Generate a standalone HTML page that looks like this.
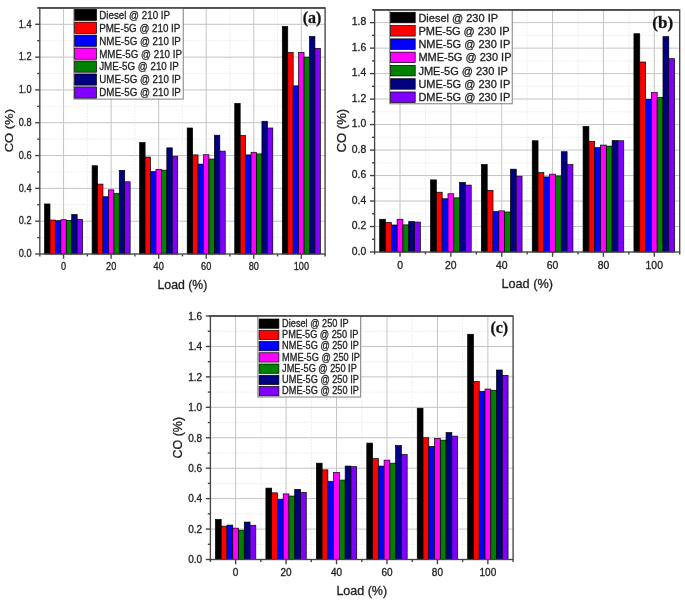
<!DOCTYPE html>
<html><head><meta charset="utf-8"><title>CO emission charts</title>
<style>
html,body{margin:0;padding:0;background:#fff;}
body{width:685px;height:604px;overflow:hidden;}
svg{display:block;font-family:"Liberation Sans", sans-serif;filter:blur(0.45px);}
text{stroke:#222;stroke-width:0.3px;}
</style></head>
<body>
<svg width="685" height="604" viewBox="0 0 685 604">
<rect width="685" height="604" fill="#fff"/>
<line x1="39.8" y1="237.59" x2="325.1" y2="237.59" stroke="#eeeeee" stroke-width="1" stroke-dasharray="2 1"/>
<line x1="39.8" y1="204.78" x2="325.1" y2="204.78" stroke="#eeeeee" stroke-width="1" stroke-dasharray="2 1"/>
<line x1="39.8" y1="171.97" x2="325.1" y2="171.97" stroke="#eeeeee" stroke-width="1" stroke-dasharray="2 1"/>
<line x1="39.8" y1="139.15" x2="325.1" y2="139.15" stroke="#eeeeee" stroke-width="1" stroke-dasharray="2 1"/>
<line x1="39.8" y1="106.34" x2="325.1" y2="106.34" stroke="#eeeeee" stroke-width="1" stroke-dasharray="2 1"/>
<line x1="39.8" y1="73.53" x2="325.1" y2="73.53" stroke="#eeeeee" stroke-width="1" stroke-dasharray="2 1"/>
<line x1="39.8" y1="40.71" x2="325.1" y2="40.71" stroke="#eeeeee" stroke-width="1" stroke-dasharray="2 1"/>
<line x1="87.35" y1="7.9" x2="87.35" y2="254" stroke="#eeeeee" stroke-width="1" stroke-dasharray="2 1"/>
<line x1="134.9" y1="7.9" x2="134.9" y2="254" stroke="#eeeeee" stroke-width="1" stroke-dasharray="2 1"/>
<line x1="182.45" y1="7.9" x2="182.45" y2="254" stroke="#eeeeee" stroke-width="1" stroke-dasharray="2 1"/>
<line x1="230" y1="7.9" x2="230" y2="254" stroke="#eeeeee" stroke-width="1" stroke-dasharray="2 1"/>
<line x1="277.55" y1="7.9" x2="277.55" y2="254" stroke="#eeeeee" stroke-width="1" stroke-dasharray="2 1"/>
<line x1="39.8" y1="221.19" x2="325.1" y2="221.19" stroke="#c4c4c4" stroke-width="1"/>
<line x1="39.8" y1="188.37" x2="325.1" y2="188.37" stroke="#c4c4c4" stroke-width="1"/>
<line x1="39.8" y1="155.56" x2="325.1" y2="155.56" stroke="#c4c4c4" stroke-width="1"/>
<line x1="39.8" y1="122.75" x2="325.1" y2="122.75" stroke="#c4c4c4" stroke-width="1"/>
<line x1="39.8" y1="89.93" x2="325.1" y2="89.93" stroke="#c4c4c4" stroke-width="1"/>
<line x1="39.8" y1="57.12" x2="325.1" y2="57.12" stroke="#c4c4c4" stroke-width="1"/>
<line x1="39.8" y1="24.31" x2="325.1" y2="24.31" stroke="#c4c4c4" stroke-width="1"/>
<line x1="63.57" y1="7.9" x2="63.57" y2="254" stroke="#c4c4c4" stroke-width="1"/>
<line x1="111.12" y1="7.9" x2="111.12" y2="254" stroke="#c4c4c4" stroke-width="1"/>
<line x1="158.68" y1="7.9" x2="158.68" y2="254" stroke="#c4c4c4" stroke-width="1"/>
<line x1="206.22" y1="7.9" x2="206.22" y2="254" stroke="#c4c4c4" stroke-width="1"/>
<line x1="253.77" y1="7.9" x2="253.77" y2="254" stroke="#c4c4c4" stroke-width="1"/>
<line x1="301.32" y1="7.9" x2="301.32" y2="254" stroke="#c4c4c4" stroke-width="1"/>
<rect x="44.55" y="203.96" width="5.43" height="50.04" fill="#000000" stroke="#000" stroke-width="0.7"/>
<rect x="49.99" y="220.04" width="5.43" height="33.96" fill="#ff0000" stroke="#000" stroke-width="0.7"/>
<rect x="55.42" y="220.69" width="5.43" height="33.31" fill="#0000ff" stroke="#000" stroke-width="0.7"/>
<rect x="60.86" y="219.71" width="5.43" height="34.29" fill="#ff00ff" stroke="#000" stroke-width="0.7"/>
<rect x="66.29" y="220.37" width="5.43" height="33.63" fill="#008000" stroke="#000" stroke-width="0.7"/>
<rect x="71.73" y="214.62" width="5.43" height="39.38" fill="#000080" stroke="#000" stroke-width="0.7"/>
<rect x="77.16" y="219.55" width="5.43" height="34.45" fill="#8000ff" stroke="#000" stroke-width="0.7"/>
<rect x="92.11" y="165.73" width="5.43" height="88.27" fill="#000000" stroke="#000" stroke-width="0.7"/>
<rect x="97.54" y="184.11" width="5.43" height="69.89" fill="#ff0000" stroke="#000" stroke-width="0.7"/>
<rect x="102.97" y="196.74" width="5.43" height="57.26" fill="#0000ff" stroke="#000" stroke-width="0.7"/>
<rect x="108.41" y="189.85" width="5.43" height="64.15" fill="#ff00ff" stroke="#000" stroke-width="0.7"/>
<rect x="113.84" y="193.46" width="5.43" height="60.54" fill="#008000" stroke="#000" stroke-width="0.7"/>
<rect x="119.28" y="170.33" width="5.43" height="83.67" fill="#000080" stroke="#000" stroke-width="0.7"/>
<rect x="124.71" y="181.81" width="5.43" height="72.19" fill="#8000ff" stroke="#000" stroke-width="0.7"/>
<rect x="139.66" y="142.6" width="5.43" height="111.4" fill="#000000" stroke="#000" stroke-width="0.7"/>
<rect x="145.09" y="157.04" width="5.43" height="96.96" fill="#ff0000" stroke="#000" stroke-width="0.7"/>
<rect x="150.52" y="171.64" width="5.43" height="82.36" fill="#0000ff" stroke="#000" stroke-width="0.7"/>
<rect x="155.96" y="169.34" width="5.43" height="84.66" fill="#ff00ff" stroke="#000" stroke-width="0.7"/>
<rect x="161.39" y="170.16" width="5.43" height="83.84" fill="#008000" stroke="#000" stroke-width="0.7"/>
<rect x="166.83" y="147.85" width="5.43" height="106.15" fill="#000080" stroke="#000" stroke-width="0.7"/>
<rect x="172.26" y="156.22" width="5.43" height="97.78" fill="#8000ff" stroke="#000" stroke-width="0.7"/>
<rect x="187.2" y="128" width="5.43" height="126" fill="#000000" stroke="#000" stroke-width="0.7"/>
<rect x="192.64" y="154.9" width="5.43" height="99.1" fill="#ff0000" stroke="#000" stroke-width="0.7"/>
<rect x="198.07" y="164.09" width="5.43" height="89.91" fill="#0000ff" stroke="#000" stroke-width="0.7"/>
<rect x="203.51" y="154.74" width="5.43" height="99.26" fill="#ff00ff" stroke="#000" stroke-width="0.7"/>
<rect x="208.94" y="159.01" width="5.43" height="94.99" fill="#008000" stroke="#000" stroke-width="0.7"/>
<rect x="214.38" y="135.22" width="5.43" height="118.78" fill="#000080" stroke="#000" stroke-width="0.7"/>
<rect x="219.81" y="151.13" width="5.43" height="102.87" fill="#8000ff" stroke="#000" stroke-width="0.7"/>
<rect x="234.75" y="103.39" width="5.43" height="150.61" fill="#000000" stroke="#000" stroke-width="0.7"/>
<rect x="240.19" y="135.54" width="5.43" height="118.46" fill="#ff0000" stroke="#000" stroke-width="0.7"/>
<rect x="245.62" y="154.9" width="5.43" height="99.1" fill="#0000ff" stroke="#000" stroke-width="0.7"/>
<rect x="251.06" y="152.28" width="5.43" height="101.72" fill="#ff00ff" stroke="#000" stroke-width="0.7"/>
<rect x="256.49" y="153.92" width="5.43" height="100.08" fill="#008000" stroke="#000" stroke-width="0.7"/>
<rect x="261.93" y="121.27" width="5.43" height="132.73" fill="#000080" stroke="#000" stroke-width="0.7"/>
<rect x="267.36" y="128" width="5.43" height="126" fill="#8000ff" stroke="#000" stroke-width="0.7"/>
<rect x="282.31" y="26.6" width="5.43" height="227.4" fill="#000000" stroke="#000" stroke-width="0.7"/>
<rect x="287.74" y="52.36" width="5.43" height="201.64" fill="#ff0000" stroke="#000" stroke-width="0.7"/>
<rect x="293.17" y="85.83" width="5.43" height="168.17" fill="#0000ff" stroke="#000" stroke-width="0.7"/>
<rect x="298.61" y="52.36" width="5.43" height="201.64" fill="#ff00ff" stroke="#000" stroke-width="0.7"/>
<rect x="304.04" y="57.12" width="5.43" height="196.88" fill="#008000" stroke="#000" stroke-width="0.7"/>
<rect x="309.48" y="36.45" width="5.43" height="217.55" fill="#000080" stroke="#000" stroke-width="0.7"/>
<rect x="314.91" y="48.42" width="5.43" height="205.58" fill="#8000ff" stroke="#000" stroke-width="0.7"/>
<rect x="39.8" y="7.9" width="285.3" height="246.1" fill="none" stroke="#454545" stroke-width="1.35"/>
<line x1="35.2" y1="254" x2="39.8" y2="254" stroke="#454545" stroke-width="1.4"/>
<text transform="translate(31.5 257.28) scale(0.92 1.0)" text-anchor="end" font-size="10" fill="#1c1c1c">0.0</text>
<line x1="37.2" y1="237.59" x2="39.8" y2="237.59" stroke="#454545" stroke-width="1.4"/>
<line x1="35.2" y1="221.19" x2="39.8" y2="221.19" stroke="#454545" stroke-width="1.4"/>
<text transform="translate(31.5 224.47) scale(0.92 1.0)" text-anchor="end" font-size="10" fill="#1c1c1c">0.2</text>
<line x1="37.2" y1="204.78" x2="39.8" y2="204.78" stroke="#454545" stroke-width="1.4"/>
<line x1="35.2" y1="188.37" x2="39.8" y2="188.37" stroke="#454545" stroke-width="1.4"/>
<text transform="translate(31.5 191.65) scale(0.92 1.0)" text-anchor="end" font-size="10" fill="#1c1c1c">0.4</text>
<line x1="37.2" y1="171.97" x2="39.8" y2="171.97" stroke="#454545" stroke-width="1.4"/>
<line x1="35.2" y1="155.56" x2="39.8" y2="155.56" stroke="#454545" stroke-width="1.4"/>
<text transform="translate(31.5 158.84) scale(0.92 1.0)" text-anchor="end" font-size="10" fill="#1c1c1c">0.6</text>
<line x1="37.2" y1="139.15" x2="39.8" y2="139.15" stroke="#454545" stroke-width="1.4"/>
<line x1="35.2" y1="122.75" x2="39.8" y2="122.75" stroke="#454545" stroke-width="1.4"/>
<text transform="translate(31.5 126.03) scale(0.92 1.0)" text-anchor="end" font-size="10" fill="#1c1c1c">0.8</text>
<line x1="37.2" y1="106.34" x2="39.8" y2="106.34" stroke="#454545" stroke-width="1.4"/>
<line x1="35.2" y1="89.93" x2="39.8" y2="89.93" stroke="#454545" stroke-width="1.4"/>
<text transform="translate(31.5 93.21) scale(0.92 1.0)" text-anchor="end" font-size="10" fill="#1c1c1c">1.0</text>
<line x1="37.2" y1="73.53" x2="39.8" y2="73.53" stroke="#454545" stroke-width="1.4"/>
<line x1="35.2" y1="57.12" x2="39.8" y2="57.12" stroke="#454545" stroke-width="1.4"/>
<text transform="translate(31.5 60.4) scale(0.92 1.0)" text-anchor="end" font-size="10" fill="#1c1c1c">1.2</text>
<line x1="37.2" y1="40.71" x2="39.8" y2="40.71" stroke="#454545" stroke-width="1.4"/>
<line x1="35.2" y1="24.31" x2="39.8" y2="24.31" stroke="#454545" stroke-width="1.4"/>
<text transform="translate(31.5 27.59) scale(0.92 1.0)" text-anchor="end" font-size="10" fill="#1c1c1c">1.4</text>
<line x1="37.2" y1="7.9" x2="39.8" y2="7.9" stroke="#454545" stroke-width="1.4"/>
<line x1="39.8" y1="254" x2="39.8" y2="256.4" stroke="#454545" stroke-width="1.4"/>
<line x1="63.57" y1="254" x2="63.57" y2="258.8" stroke="#454545" stroke-width="1.4"/>
<text transform="translate(63.57 270.18) scale(0.92 1.0)" text-anchor="middle" font-size="10" fill="#1c1c1c">0</text>
<line x1="87.35" y1="254" x2="87.35" y2="256.4" stroke="#454545" stroke-width="1.4"/>
<line x1="111.12" y1="254" x2="111.12" y2="258.8" stroke="#454545" stroke-width="1.4"/>
<text transform="translate(111.12 270.18) scale(0.92 1.0)" text-anchor="middle" font-size="10" fill="#1c1c1c">20</text>
<line x1="134.9" y1="254" x2="134.9" y2="256.4" stroke="#454545" stroke-width="1.4"/>
<line x1="158.68" y1="254" x2="158.68" y2="258.8" stroke="#454545" stroke-width="1.4"/>
<text transform="translate(158.68 270.18) scale(0.92 1.0)" text-anchor="middle" font-size="10" fill="#1c1c1c">40</text>
<line x1="182.45" y1="254" x2="182.45" y2="256.4" stroke="#454545" stroke-width="1.4"/>
<line x1="206.22" y1="254" x2="206.22" y2="258.8" stroke="#454545" stroke-width="1.4"/>
<text transform="translate(206.22 270.18) scale(0.92 1.0)" text-anchor="middle" font-size="10" fill="#1c1c1c">60</text>
<line x1="230" y1="254" x2="230" y2="256.4" stroke="#454545" stroke-width="1.4"/>
<line x1="253.77" y1="254" x2="253.77" y2="258.8" stroke="#454545" stroke-width="1.4"/>
<text transform="translate(253.77 270.18) scale(0.92 1.0)" text-anchor="middle" font-size="10" fill="#1c1c1c">80</text>
<line x1="277.55" y1="254" x2="277.55" y2="256.4" stroke="#454545" stroke-width="1.4"/>
<line x1="301.32" y1="254" x2="301.32" y2="258.8" stroke="#454545" stroke-width="1.4"/>
<text transform="translate(301.32 270.18) scale(0.92 1.0)" text-anchor="middle" font-size="10" fill="#1c1c1c">100</text>
<line x1="325.1" y1="254" x2="325.1" y2="256.4" stroke="#454545" stroke-width="1.4"/>
<text x="182.45" y="289.33" text-anchor="middle" font-size="12.3" fill="#1c1c1c">Load (%)</text>
<text transform="translate(13.42 130.65) rotate(-90) scale(1 0.88)" x="0" y="0" text-anchor="middle" font-size="13" fill="#1c1c1c">CO (%)</text>
<rect x="73.9" y="7.9" width="109.3" height="91.2" fill="#fff" stroke="#707070" stroke-width="0.9"/>
<rect x="74.7" y="9.2" width="21.8" height="11.2" fill="#000000" stroke="#000" stroke-width="0.7"/>
<text transform="translate(99.2 18.69) scale(0.907 1.0)" font-size="10.8" fill="#1c1c1c">Diesel @ 210 IP</text>
<rect x="74.7" y="22.15" width="21.8" height="11.2" fill="#ff0000" stroke="#000" stroke-width="0.7"/>
<text transform="translate(99.2 31.64) scale(0.907 1.0)" font-size="10.8" fill="#1c1c1c">PME-5G @ 210 IP</text>
<rect x="74.7" y="35.1" width="21.8" height="11.2" fill="#0000ff" stroke="#000" stroke-width="0.7"/>
<text transform="translate(99.2 44.59) scale(0.907 1.0)" font-size="10.8" fill="#1c1c1c">NME-5G @ 210 IP</text>
<rect x="74.7" y="48.05" width="21.8" height="11.2" fill="#ff00ff" stroke="#000" stroke-width="0.7"/>
<text transform="translate(99.2 57.54) scale(0.907 1.0)" font-size="10.8" fill="#1c1c1c">MME-5G @ 210 IP</text>
<rect x="74.7" y="61" width="21.8" height="11.2" fill="#008000" stroke="#000" stroke-width="0.7"/>
<text transform="translate(99.2 70.49) scale(0.907 1.0)" font-size="10.8" fill="#1c1c1c">JME-5G @ 210 IP</text>
<rect x="74.7" y="73.95" width="21.8" height="11.2" fill="#000080" stroke="#000" stroke-width="0.7"/>
<text transform="translate(99.2 83.44) scale(0.907 1.0)" font-size="10.8" fill="#1c1c1c">UME-5G @ 210 IP</text>
<rect x="74.7" y="86.9" width="21.8" height="11.2" fill="#8000ff" stroke="#000" stroke-width="0.7"/>
<text transform="translate(99.2 96.39) scale(0.907 1.0)" font-size="10.8" fill="#1c1c1c">DME-5G @ 210 IP</text>
<line x1="38.3" y1="7.9" x2="325.1" y2="7.9" stroke="#454545" stroke-width="1.5"/>
<text x="312" y="22.6" text-anchor="middle" font-family="Liberation Serif, serif" font-weight="bold" font-size="16" fill="#111">(a)</text>
<line x1="374.6" y1="239.26" x2="679.7" y2="239.26" stroke="#eeeeee" stroke-width="1" stroke-dasharray="2 1"/>
<line x1="374.6" y1="213.77" x2="679.7" y2="213.77" stroke="#eeeeee" stroke-width="1" stroke-dasharray="2 1"/>
<line x1="374.6" y1="188.29" x2="679.7" y2="188.29" stroke="#eeeeee" stroke-width="1" stroke-dasharray="2 1"/>
<line x1="374.6" y1="162.81" x2="679.7" y2="162.81" stroke="#eeeeee" stroke-width="1" stroke-dasharray="2 1"/>
<line x1="374.6" y1="137.32" x2="679.7" y2="137.32" stroke="#eeeeee" stroke-width="1" stroke-dasharray="2 1"/>
<line x1="374.6" y1="111.84" x2="679.7" y2="111.84" stroke="#eeeeee" stroke-width="1" stroke-dasharray="2 1"/>
<line x1="374.6" y1="86.35" x2="679.7" y2="86.35" stroke="#eeeeee" stroke-width="1" stroke-dasharray="2 1"/>
<line x1="374.6" y1="60.87" x2="679.7" y2="60.87" stroke="#eeeeee" stroke-width="1" stroke-dasharray="2 1"/>
<line x1="374.6" y1="35.38" x2="679.7" y2="35.38" stroke="#eeeeee" stroke-width="1" stroke-dasharray="2 1"/>
<line x1="425.45" y1="9.9" x2="425.45" y2="252" stroke="#eeeeee" stroke-width="1" stroke-dasharray="2 1"/>
<line x1="476.3" y1="9.9" x2="476.3" y2="252" stroke="#eeeeee" stroke-width="1" stroke-dasharray="2 1"/>
<line x1="527.15" y1="9.9" x2="527.15" y2="252" stroke="#eeeeee" stroke-width="1" stroke-dasharray="2 1"/>
<line x1="578" y1="9.9" x2="578" y2="252" stroke="#eeeeee" stroke-width="1" stroke-dasharray="2 1"/>
<line x1="628.85" y1="9.9" x2="628.85" y2="252" stroke="#eeeeee" stroke-width="1" stroke-dasharray="2 1"/>
<line x1="374.6" y1="226.52" x2="679.7" y2="226.52" stroke="#c4c4c4" stroke-width="1"/>
<line x1="374.6" y1="201.03" x2="679.7" y2="201.03" stroke="#c4c4c4" stroke-width="1"/>
<line x1="374.6" y1="175.55" x2="679.7" y2="175.55" stroke="#c4c4c4" stroke-width="1"/>
<line x1="374.6" y1="150.06" x2="679.7" y2="150.06" stroke="#c4c4c4" stroke-width="1"/>
<line x1="374.6" y1="124.58" x2="679.7" y2="124.58" stroke="#c4c4c4" stroke-width="1"/>
<line x1="374.6" y1="99.09" x2="679.7" y2="99.09" stroke="#c4c4c4" stroke-width="1"/>
<line x1="374.6" y1="73.61" x2="679.7" y2="73.61" stroke="#c4c4c4" stroke-width="1"/>
<line x1="374.6" y1="48.13" x2="679.7" y2="48.13" stroke="#c4c4c4" stroke-width="1"/>
<line x1="374.6" y1="22.64" x2="679.7" y2="22.64" stroke="#c4c4c4" stroke-width="1"/>
<line x1="400.03" y1="9.9" x2="400.03" y2="252" stroke="#c4c4c4" stroke-width="1"/>
<line x1="450.88" y1="9.9" x2="450.88" y2="252" stroke="#c4c4c4" stroke-width="1"/>
<line x1="501.73" y1="9.9" x2="501.73" y2="252" stroke="#c4c4c4" stroke-width="1"/>
<line x1="552.58" y1="9.9" x2="552.58" y2="252" stroke="#c4c4c4" stroke-width="1"/>
<line x1="603.42" y1="9.9" x2="603.42" y2="252" stroke="#c4c4c4" stroke-width="1"/>
<line x1="654.28" y1="9.9" x2="654.28" y2="252" stroke="#c4c4c4" stroke-width="1"/>
<rect x="379.69" y="219.25" width="5.81" height="32.75" fill="#000000" stroke="#000" stroke-width="0.7"/>
<rect x="385.5" y="222.44" width="5.81" height="29.56" fill="#ff0000" stroke="#000" stroke-width="0.7"/>
<rect x="391.31" y="224.99" width="5.81" height="27.01" fill="#0000ff" stroke="#000" stroke-width="0.7"/>
<rect x="397.12" y="219.25" width="5.81" height="32.75" fill="#ff00ff" stroke="#000" stroke-width="0.7"/>
<rect x="402.93" y="224.86" width="5.81" height="27.14" fill="#008000" stroke="#000" stroke-width="0.7"/>
<rect x="408.74" y="221.55" width="5.81" height="30.45" fill="#000080" stroke="#000" stroke-width="0.7"/>
<rect x="414.55" y="222.06" width="5.81" height="29.94" fill="#8000ff" stroke="#000" stroke-width="0.7"/>
<rect x="430.53" y="179.88" width="5.81" height="72.12" fill="#000000" stroke="#000" stroke-width="0.7"/>
<rect x="436.35" y="192.24" width="5.81" height="59.76" fill="#ff0000" stroke="#000" stroke-width="0.7"/>
<rect x="442.16" y="198.74" width="5.81" height="53.26" fill="#0000ff" stroke="#000" stroke-width="0.7"/>
<rect x="447.97" y="193.77" width="5.81" height="58.23" fill="#ff00ff" stroke="#000" stroke-width="0.7"/>
<rect x="453.78" y="197.85" width="5.81" height="54.15" fill="#008000" stroke="#000" stroke-width="0.7"/>
<rect x="459.59" y="182.43" width="5.81" height="69.57" fill="#000080" stroke="#000" stroke-width="0.7"/>
<rect x="465.4" y="185.1" width="5.81" height="66.9" fill="#8000ff" stroke="#000" stroke-width="0.7"/>
<rect x="481.38" y="164.46" width="5.81" height="87.54" fill="#000000" stroke="#000" stroke-width="0.7"/>
<rect x="487.2" y="190.33" width="5.81" height="61.67" fill="#ff0000" stroke="#000" stroke-width="0.7"/>
<rect x="493.01" y="211.61" width="5.81" height="40.39" fill="#0000ff" stroke="#000" stroke-width="0.7"/>
<rect x="498.82" y="210.84" width="5.81" height="41.16" fill="#ff00ff" stroke="#000" stroke-width="0.7"/>
<rect x="504.63" y="211.99" width="5.81" height="40.01" fill="#008000" stroke="#000" stroke-width="0.7"/>
<rect x="510.44" y="169.18" width="5.81" height="82.82" fill="#000080" stroke="#000" stroke-width="0.7"/>
<rect x="516.25" y="176.18" width="5.81" height="75.82" fill="#8000ff" stroke="#000" stroke-width="0.7"/>
<rect x="532.24" y="140.76" width="5.81" height="111.24" fill="#000000" stroke="#000" stroke-width="0.7"/>
<rect x="538.05" y="172.62" width="5.81" height="79.38" fill="#ff0000" stroke="#000" stroke-width="0.7"/>
<rect x="543.86" y="176.95" width="5.81" height="75.05" fill="#0000ff" stroke="#000" stroke-width="0.7"/>
<rect x="549.67" y="174.15" width="5.81" height="77.85" fill="#ff00ff" stroke="#000" stroke-width="0.7"/>
<rect x="555.48" y="175.93" width="5.81" height="76.07" fill="#008000" stroke="#000" stroke-width="0.7"/>
<rect x="561.29" y="151.72" width="5.81" height="100.28" fill="#000080" stroke="#000" stroke-width="0.7"/>
<rect x="567.1" y="164.59" width="5.81" height="87.41" fill="#8000ff" stroke="#000" stroke-width="0.7"/>
<rect x="583.08" y="126.49" width="5.81" height="125.51" fill="#000000" stroke="#000" stroke-width="0.7"/>
<rect x="588.9" y="141.4" width="5.81" height="110.6" fill="#ff0000" stroke="#000" stroke-width="0.7"/>
<rect x="594.71" y="147.64" width="5.81" height="104.36" fill="#0000ff" stroke="#000" stroke-width="0.7"/>
<rect x="600.52" y="145.09" width="5.81" height="106.91" fill="#ff00ff" stroke="#000" stroke-width="0.7"/>
<rect x="606.33" y="146.11" width="5.81" height="105.89" fill="#008000" stroke="#000" stroke-width="0.7"/>
<rect x="612.14" y="140.63" width="5.81" height="111.37" fill="#000080" stroke="#000" stroke-width="0.7"/>
<rect x="617.95" y="140.76" width="5.81" height="111.24" fill="#8000ff" stroke="#000" stroke-width="0.7"/>
<rect x="633.94" y="33.73" width="5.81" height="218.27" fill="#000000" stroke="#000" stroke-width="0.7"/>
<rect x="639.75" y="62.02" width="5.81" height="189.98" fill="#ff0000" stroke="#000" stroke-width="0.7"/>
<rect x="645.56" y="99.22" width="5.81" height="152.78" fill="#0000ff" stroke="#000" stroke-width="0.7"/>
<rect x="651.37" y="92.6" width="5.81" height="159.4" fill="#ff00ff" stroke="#000" stroke-width="0.7"/>
<rect x="657.18" y="97.44" width="5.81" height="154.56" fill="#008000" stroke="#000" stroke-width="0.7"/>
<rect x="662.99" y="36.66" width="5.81" height="215.34" fill="#000080" stroke="#000" stroke-width="0.7"/>
<rect x="668.8" y="58.7" width="5.81" height="193.3" fill="#8000ff" stroke="#000" stroke-width="0.7"/>
<rect x="374.6" y="9.9" width="305.1" height="242.1" fill="none" stroke="#454545" stroke-width="1.35"/>
<line x1="370" y1="252" x2="374.6" y2="252" stroke="#454545" stroke-width="1.4"/>
<text x="366.3" y="254.67" text-anchor="end" font-size="10.4" fill="#1c1c1c">0.0</text>
<line x1="372" y1="239.26" x2="374.6" y2="239.26" stroke="#454545" stroke-width="1.4"/>
<line x1="370" y1="226.52" x2="374.6" y2="226.52" stroke="#454545" stroke-width="1.4"/>
<text x="366.3" y="229.19" text-anchor="end" font-size="10.4" fill="#1c1c1c">0.2</text>
<line x1="372" y1="213.77" x2="374.6" y2="213.77" stroke="#454545" stroke-width="1.4"/>
<line x1="370" y1="201.03" x2="374.6" y2="201.03" stroke="#454545" stroke-width="1.4"/>
<text x="366.3" y="203.7" text-anchor="end" font-size="10.4" fill="#1c1c1c">0.4</text>
<line x1="372" y1="188.29" x2="374.6" y2="188.29" stroke="#454545" stroke-width="1.4"/>
<line x1="370" y1="175.55" x2="374.6" y2="175.55" stroke="#454545" stroke-width="1.4"/>
<text x="366.3" y="178.22" text-anchor="end" font-size="10.4" fill="#1c1c1c">0.6</text>
<line x1="372" y1="162.81" x2="374.6" y2="162.81" stroke="#454545" stroke-width="1.4"/>
<line x1="370" y1="150.06" x2="374.6" y2="150.06" stroke="#454545" stroke-width="1.4"/>
<text x="366.3" y="152.74" text-anchor="end" font-size="10.4" fill="#1c1c1c">0.8</text>
<line x1="372" y1="137.32" x2="374.6" y2="137.32" stroke="#454545" stroke-width="1.4"/>
<line x1="370" y1="124.58" x2="374.6" y2="124.58" stroke="#454545" stroke-width="1.4"/>
<text x="366.3" y="127.25" text-anchor="end" font-size="10.4" fill="#1c1c1c">1.0</text>
<line x1="372" y1="111.84" x2="374.6" y2="111.84" stroke="#454545" stroke-width="1.4"/>
<line x1="370" y1="99.09" x2="374.6" y2="99.09" stroke="#454545" stroke-width="1.4"/>
<text x="366.3" y="101.77" text-anchor="end" font-size="10.4" fill="#1c1c1c">1.2</text>
<line x1="372" y1="86.35" x2="374.6" y2="86.35" stroke="#454545" stroke-width="1.4"/>
<line x1="370" y1="73.61" x2="374.6" y2="73.61" stroke="#454545" stroke-width="1.4"/>
<text x="366.3" y="76.28" text-anchor="end" font-size="10.4" fill="#1c1c1c">1.4</text>
<line x1="372" y1="60.87" x2="374.6" y2="60.87" stroke="#454545" stroke-width="1.4"/>
<line x1="370" y1="48.13" x2="374.6" y2="48.13" stroke="#454545" stroke-width="1.4"/>
<text x="366.3" y="50.8" text-anchor="end" font-size="10.4" fill="#1c1c1c">1.6</text>
<line x1="372" y1="35.38" x2="374.6" y2="35.38" stroke="#454545" stroke-width="1.4"/>
<line x1="370" y1="22.64" x2="374.6" y2="22.64" stroke="#454545" stroke-width="1.4"/>
<text x="366.3" y="25.32" text-anchor="end" font-size="10.4" fill="#1c1c1c">1.8</text>
<line x1="372" y1="9.9" x2="374.6" y2="9.9" stroke="#454545" stroke-width="1.4"/>
<line x1="374.6" y1="252" x2="374.6" y2="254.4" stroke="#454545" stroke-width="1.4"/>
<line x1="400.03" y1="252" x2="400.03" y2="256.8" stroke="#454545" stroke-width="1.4"/>
<text x="400.03" y="268.82" text-anchor="middle" font-size="10.4" fill="#1c1c1c">0</text>
<line x1="425.45" y1="252" x2="425.45" y2="254.4" stroke="#454545" stroke-width="1.4"/>
<line x1="450.88" y1="252" x2="450.88" y2="256.8" stroke="#454545" stroke-width="1.4"/>
<text x="450.88" y="268.82" text-anchor="middle" font-size="10.4" fill="#1c1c1c">20</text>
<line x1="476.3" y1="252" x2="476.3" y2="254.4" stroke="#454545" stroke-width="1.4"/>
<line x1="501.73" y1="252" x2="501.73" y2="256.8" stroke="#454545" stroke-width="1.4"/>
<text x="501.73" y="268.82" text-anchor="middle" font-size="10.4" fill="#1c1c1c">40</text>
<line x1="527.15" y1="252" x2="527.15" y2="254.4" stroke="#454545" stroke-width="1.4"/>
<line x1="552.58" y1="252" x2="552.58" y2="256.8" stroke="#454545" stroke-width="1.4"/>
<text x="552.58" y="268.82" text-anchor="middle" font-size="10.4" fill="#1c1c1c">60</text>
<line x1="578" y1="252" x2="578" y2="254.4" stroke="#454545" stroke-width="1.4"/>
<line x1="603.42" y1="252" x2="603.42" y2="256.8" stroke="#454545" stroke-width="1.4"/>
<text x="603.42" y="268.82" text-anchor="middle" font-size="10.4" fill="#1c1c1c">80</text>
<line x1="628.85" y1="252" x2="628.85" y2="254.4" stroke="#454545" stroke-width="1.4"/>
<line x1="654.28" y1="252" x2="654.28" y2="256.8" stroke="#454545" stroke-width="1.4"/>
<text x="654.28" y="268.82" text-anchor="middle" font-size="10.4" fill="#1c1c1c">100</text>
<line x1="679.7" y1="252" x2="679.7" y2="254.4" stroke="#454545" stroke-width="1.4"/>
<text x="527.15" y="287.77" text-anchor="middle" font-size="12.7" fill="#1c1c1c">Load (%)</text>
<text transform="translate(346.32 130.65) rotate(-90) scale(1 1.0)" x="0" y="0" text-anchor="middle" font-size="13.1" fill="#1c1c1c">CO (%)</text>
<rect x="389.8" y="9.9" width="122.4" height="93.9" fill="#fff" stroke="#707070" stroke-width="0.9"/>
<rect x="390.6" y="12.3" width="24.6" height="10.5" fill="#000000" stroke="#000" stroke-width="0.7"/>
<text x="418.4" y="21.51" font-size="11.0" fill="#1c1c1c">Diesel @ 230 IP</text>
<rect x="390.6" y="25.58" width="24.6" height="10.5" fill="#ff0000" stroke="#000" stroke-width="0.7"/>
<text x="418.4" y="34.79" font-size="11.0" fill="#1c1c1c">PME-5G @ 230 IP</text>
<rect x="390.6" y="38.86" width="24.6" height="10.5" fill="#0000ff" stroke="#000" stroke-width="0.7"/>
<text x="418.4" y="48.07" font-size="11.0" fill="#1c1c1c">NME-5G @ 230 IP</text>
<rect x="390.6" y="52.14" width="24.6" height="10.5" fill="#ff00ff" stroke="#000" stroke-width="0.7"/>
<text x="418.4" y="61.35" font-size="11.0" fill="#1c1c1c">MME-5G @ 230 IP</text>
<rect x="390.6" y="65.42" width="24.6" height="10.5" fill="#008000" stroke="#000" stroke-width="0.7"/>
<text x="418.4" y="74.63" font-size="11.0" fill="#1c1c1c">JME-5G @ 230 IP</text>
<rect x="390.6" y="78.7" width="24.6" height="10.5" fill="#000080" stroke="#000" stroke-width="0.7"/>
<text x="418.4" y="87.91" font-size="11.0" fill="#1c1c1c">UME-5G @ 230 IP</text>
<rect x="390.6" y="91.98" width="24.6" height="10.5" fill="#8000ff" stroke="#000" stroke-width="0.7"/>
<text x="418.4" y="101.19" font-size="11.0" fill="#1c1c1c">DME-5G @ 230 IP</text>
<line x1="373.1" y1="9.9" x2="679.7" y2="9.9" stroke="#454545" stroke-width="1.5"/>
<text x="662.7" y="28.4" text-anchor="middle" font-family="Liberation Serif, serif" font-weight="bold" font-size="17" fill="#111">(b)</text>
<line x1="210.4" y1="544.28" x2="513.1" y2="544.28" stroke="#eeeeee" stroke-width="1" stroke-dasharray="2 1"/>
<line x1="210.4" y1="513.84" x2="513.1" y2="513.84" stroke="#eeeeee" stroke-width="1" stroke-dasharray="2 1"/>
<line x1="210.4" y1="483.41" x2="513.1" y2="483.41" stroke="#eeeeee" stroke-width="1" stroke-dasharray="2 1"/>
<line x1="210.4" y1="452.97" x2="513.1" y2="452.97" stroke="#eeeeee" stroke-width="1" stroke-dasharray="2 1"/>
<line x1="210.4" y1="422.53" x2="513.1" y2="422.53" stroke="#eeeeee" stroke-width="1" stroke-dasharray="2 1"/>
<line x1="210.4" y1="392.09" x2="513.1" y2="392.09" stroke="#eeeeee" stroke-width="1" stroke-dasharray="2 1"/>
<line x1="210.4" y1="361.66" x2="513.1" y2="361.66" stroke="#eeeeee" stroke-width="1" stroke-dasharray="2 1"/>
<line x1="210.4" y1="331.22" x2="513.1" y2="331.22" stroke="#eeeeee" stroke-width="1" stroke-dasharray="2 1"/>
<line x1="260.85" y1="316" x2="260.85" y2="559.5" stroke="#eeeeee" stroke-width="1" stroke-dasharray="2 1"/>
<line x1="311.3" y1="316" x2="311.3" y2="559.5" stroke="#eeeeee" stroke-width="1" stroke-dasharray="2 1"/>
<line x1="361.75" y1="316" x2="361.75" y2="559.5" stroke="#eeeeee" stroke-width="1" stroke-dasharray="2 1"/>
<line x1="412.2" y1="316" x2="412.2" y2="559.5" stroke="#eeeeee" stroke-width="1" stroke-dasharray="2 1"/>
<line x1="462.65" y1="316" x2="462.65" y2="559.5" stroke="#eeeeee" stroke-width="1" stroke-dasharray="2 1"/>
<line x1="210.4" y1="529.06" x2="513.1" y2="529.06" stroke="#c4c4c4" stroke-width="1"/>
<line x1="210.4" y1="498.62" x2="513.1" y2="498.62" stroke="#c4c4c4" stroke-width="1"/>
<line x1="210.4" y1="468.19" x2="513.1" y2="468.19" stroke="#c4c4c4" stroke-width="1"/>
<line x1="210.4" y1="437.75" x2="513.1" y2="437.75" stroke="#c4c4c4" stroke-width="1"/>
<line x1="210.4" y1="407.31" x2="513.1" y2="407.31" stroke="#c4c4c4" stroke-width="1"/>
<line x1="210.4" y1="376.88" x2="513.1" y2="376.88" stroke="#c4c4c4" stroke-width="1"/>
<line x1="210.4" y1="346.44" x2="513.1" y2="346.44" stroke="#c4c4c4" stroke-width="1"/>
<line x1="235.62" y1="316" x2="235.62" y2="559.5" stroke="#c4c4c4" stroke-width="1"/>
<line x1="286.08" y1="316" x2="286.08" y2="559.5" stroke="#c4c4c4" stroke-width="1"/>
<line x1="336.53" y1="316" x2="336.53" y2="559.5" stroke="#c4c4c4" stroke-width="1"/>
<line x1="386.98" y1="316" x2="386.98" y2="559.5" stroke="#c4c4c4" stroke-width="1"/>
<line x1="437.43" y1="316" x2="437.43" y2="559.5" stroke="#c4c4c4" stroke-width="1"/>
<line x1="487.88" y1="316" x2="487.88" y2="559.5" stroke="#c4c4c4" stroke-width="1"/>
<rect x="215.44" y="519.47" width="5.77" height="40.03" fill="#000000" stroke="#000" stroke-width="0.7"/>
<rect x="221.21" y="526.17" width="5.77" height="33.33" fill="#ff0000" stroke="#000" stroke-width="0.7"/>
<rect x="226.98" y="525.11" width="5.77" height="34.39" fill="#0000ff" stroke="#000" stroke-width="0.7"/>
<rect x="232.74" y="528.15" width="5.77" height="31.35" fill="#ff00ff" stroke="#000" stroke-width="0.7"/>
<rect x="238.51" y="530.13" width="5.77" height="29.37" fill="#008000" stroke="#000" stroke-width="0.7"/>
<rect x="244.27" y="522.06" width="5.77" height="37.44" fill="#000080" stroke="#000" stroke-width="0.7"/>
<rect x="250.04" y="525.26" width="5.77" height="34.24" fill="#8000ff" stroke="#000" stroke-width="0.7"/>
<rect x="265.9" y="488.12" width="5.77" height="71.38" fill="#000000" stroke="#000" stroke-width="0.7"/>
<rect x="271.66" y="492.84" width="5.77" height="66.66" fill="#ff0000" stroke="#000" stroke-width="0.7"/>
<rect x="277.43" y="499.54" width="5.77" height="59.96" fill="#0000ff" stroke="#000" stroke-width="0.7"/>
<rect x="283.19" y="493.91" width="5.77" height="65.59" fill="#ff00ff" stroke="#000" stroke-width="0.7"/>
<rect x="288.96" y="496.04" width="5.77" height="63.46" fill="#008000" stroke="#000" stroke-width="0.7"/>
<rect x="294.72" y="489.34" width="5.77" height="70.16" fill="#000080" stroke="#000" stroke-width="0.7"/>
<rect x="300.49" y="492.54" width="5.77" height="66.96" fill="#8000ff" stroke="#000" stroke-width="0.7"/>
<rect x="316.35" y="463.17" width="5.77" height="96.33" fill="#000000" stroke="#000" stroke-width="0.7"/>
<rect x="322.11" y="469.86" width="5.77" height="89.64" fill="#ff0000" stroke="#000" stroke-width="0.7"/>
<rect x="327.88" y="481.28" width="5.77" height="78.22" fill="#0000ff" stroke="#000" stroke-width="0.7"/>
<rect x="333.64" y="472.6" width="5.77" height="86.9" fill="#ff00ff" stroke="#000" stroke-width="0.7"/>
<rect x="339.41" y="480.06" width="5.77" height="79.44" fill="#008000" stroke="#000" stroke-width="0.7"/>
<rect x="345.17" y="466.06" width="5.77" height="93.44" fill="#000080" stroke="#000" stroke-width="0.7"/>
<rect x="350.94" y="466.67" width="5.77" height="92.83" fill="#8000ff" stroke="#000" stroke-width="0.7"/>
<rect x="366.8" y="443.08" width="5.77" height="116.42" fill="#000000" stroke="#000" stroke-width="0.7"/>
<rect x="372.56" y="458.6" width="5.77" height="100.9" fill="#ff0000" stroke="#000" stroke-width="0.7"/>
<rect x="378.33" y="466.06" width="5.77" height="93.44" fill="#0000ff" stroke="#000" stroke-width="0.7"/>
<rect x="384.09" y="460.12" width="5.77" height="99.38" fill="#ff00ff" stroke="#000" stroke-width="0.7"/>
<rect x="389.86" y="463.17" width="5.77" height="96.33" fill="#008000" stroke="#000" stroke-width="0.7"/>
<rect x="395.62" y="445.51" width="5.77" height="113.99" fill="#000080" stroke="#000" stroke-width="0.7"/>
<rect x="401.39" y="454.64" width="5.77" height="104.86" fill="#8000ff" stroke="#000" stroke-width="0.7"/>
<rect x="417.25" y="408.23" width="5.77" height="151.27" fill="#000000" stroke="#000" stroke-width="0.7"/>
<rect x="423.01" y="437.75" width="5.77" height="121.75" fill="#ff0000" stroke="#000" stroke-width="0.7"/>
<rect x="428.78" y="446.42" width="5.77" height="113.08" fill="#0000ff" stroke="#000" stroke-width="0.7"/>
<rect x="434.54" y="438.36" width="5.77" height="121.14" fill="#ff00ff" stroke="#000" stroke-width="0.7"/>
<rect x="440.31" y="440.19" width="5.77" height="119.31" fill="#008000" stroke="#000" stroke-width="0.7"/>
<rect x="446.07" y="432.58" width="5.77" height="126.92" fill="#000080" stroke="#000" stroke-width="0.7"/>
<rect x="451.84" y="436.08" width="5.77" height="123.42" fill="#8000ff" stroke="#000" stroke-width="0.7"/>
<rect x="467.69" y="334.26" width="5.77" height="225.24" fill="#000000" stroke="#000" stroke-width="0.7"/>
<rect x="473.46" y="381.44" width="5.77" height="178.06" fill="#ff0000" stroke="#000" stroke-width="0.7"/>
<rect x="479.23" y="391.33" width="5.77" height="168.17" fill="#0000ff" stroke="#000" stroke-width="0.7"/>
<rect x="484.99" y="389.05" width="5.77" height="170.45" fill="#ff00ff" stroke="#000" stroke-width="0.7"/>
<rect x="490.76" y="390.27" width="5.77" height="169.23" fill="#008000" stroke="#000" stroke-width="0.7"/>
<rect x="496.52" y="370.03" width="5.77" height="189.47" fill="#000080" stroke="#000" stroke-width="0.7"/>
<rect x="502.29" y="375.35" width="5.77" height="184.15" fill="#8000ff" stroke="#000" stroke-width="0.7"/>
<rect x="210.4" y="316" width="302.7" height="243.5" fill="none" stroke="#454545" stroke-width="1.35"/>
<line x1="205.8" y1="559.5" x2="210.4" y2="559.5" stroke="#454545" stroke-width="1.4"/>
<text x="202.1" y="563.33" text-anchor="end" font-size="10.0" fill="#1c1c1c">0.0</text>
<line x1="207.8" y1="544.28" x2="210.4" y2="544.28" stroke="#454545" stroke-width="1.4"/>
<line x1="205.8" y1="529.06" x2="210.4" y2="529.06" stroke="#454545" stroke-width="1.4"/>
<text x="202.1" y="532.89" text-anchor="end" font-size="10.0" fill="#1c1c1c">0.2</text>
<line x1="207.8" y1="513.84" x2="210.4" y2="513.84" stroke="#454545" stroke-width="1.4"/>
<line x1="205.8" y1="498.62" x2="210.4" y2="498.62" stroke="#454545" stroke-width="1.4"/>
<text x="202.1" y="502.45" text-anchor="end" font-size="10.0" fill="#1c1c1c">0.4</text>
<line x1="207.8" y1="483.41" x2="210.4" y2="483.41" stroke="#454545" stroke-width="1.4"/>
<line x1="205.8" y1="468.19" x2="210.4" y2="468.19" stroke="#454545" stroke-width="1.4"/>
<text x="202.1" y="472.02" text-anchor="end" font-size="10.0" fill="#1c1c1c">0.6</text>
<line x1="207.8" y1="452.97" x2="210.4" y2="452.97" stroke="#454545" stroke-width="1.4"/>
<line x1="205.8" y1="437.75" x2="210.4" y2="437.75" stroke="#454545" stroke-width="1.4"/>
<text x="202.1" y="441.58" text-anchor="end" font-size="10.0" fill="#1c1c1c">0.8</text>
<line x1="207.8" y1="422.53" x2="210.4" y2="422.53" stroke="#454545" stroke-width="1.4"/>
<line x1="205.8" y1="407.31" x2="210.4" y2="407.31" stroke="#454545" stroke-width="1.4"/>
<text x="202.1" y="411.14" text-anchor="end" font-size="10.0" fill="#1c1c1c">1.0</text>
<line x1="207.8" y1="392.09" x2="210.4" y2="392.09" stroke="#454545" stroke-width="1.4"/>
<line x1="205.8" y1="376.88" x2="210.4" y2="376.88" stroke="#454545" stroke-width="1.4"/>
<text x="202.1" y="380.7" text-anchor="end" font-size="10.0" fill="#1c1c1c">1.2</text>
<line x1="207.8" y1="361.66" x2="210.4" y2="361.66" stroke="#454545" stroke-width="1.4"/>
<line x1="205.8" y1="346.44" x2="210.4" y2="346.44" stroke="#454545" stroke-width="1.4"/>
<text x="202.1" y="350.27" text-anchor="end" font-size="10.0" fill="#1c1c1c">1.4</text>
<line x1="207.8" y1="331.22" x2="210.4" y2="331.22" stroke="#454545" stroke-width="1.4"/>
<line x1="205.8" y1="316" x2="210.4" y2="316" stroke="#454545" stroke-width="1.4"/>
<text x="202.1" y="319.83" text-anchor="end" font-size="10.0" fill="#1c1c1c">1.6</text>
<line x1="210.4" y1="559.5" x2="210.4" y2="561.9" stroke="#454545" stroke-width="1.4"/>
<line x1="235.62" y1="559.5" x2="235.62" y2="564.3" stroke="#454545" stroke-width="1.4"/>
<text x="235.62" y="575.88" text-anchor="middle" font-size="10.0" fill="#1c1c1c">0</text>
<line x1="260.85" y1="559.5" x2="260.85" y2="561.9" stroke="#454545" stroke-width="1.4"/>
<line x1="286.08" y1="559.5" x2="286.08" y2="564.3" stroke="#454545" stroke-width="1.4"/>
<text x="286.08" y="575.88" text-anchor="middle" font-size="10.0" fill="#1c1c1c">20</text>
<line x1="311.3" y1="559.5" x2="311.3" y2="561.9" stroke="#454545" stroke-width="1.4"/>
<line x1="336.53" y1="559.5" x2="336.53" y2="564.3" stroke="#454545" stroke-width="1.4"/>
<text x="336.53" y="575.88" text-anchor="middle" font-size="10.0" fill="#1c1c1c">40</text>
<line x1="361.75" y1="559.5" x2="361.75" y2="561.9" stroke="#454545" stroke-width="1.4"/>
<line x1="386.98" y1="559.5" x2="386.98" y2="564.3" stroke="#454545" stroke-width="1.4"/>
<text x="386.98" y="575.88" text-anchor="middle" font-size="10.0" fill="#1c1c1c">60</text>
<line x1="412.2" y1="559.5" x2="412.2" y2="561.9" stroke="#454545" stroke-width="1.4"/>
<line x1="437.43" y1="559.5" x2="437.43" y2="564.3" stroke="#454545" stroke-width="1.4"/>
<text x="437.43" y="575.88" text-anchor="middle" font-size="10.0" fill="#1c1c1c">80</text>
<line x1="462.65" y1="559.5" x2="462.65" y2="561.9" stroke="#454545" stroke-width="1.4"/>
<line x1="487.88" y1="559.5" x2="487.88" y2="564.3" stroke="#454545" stroke-width="1.4"/>
<text x="487.88" y="575.88" text-anchor="middle" font-size="10.0" fill="#1c1c1c">100</text>
<line x1="513.1" y1="559.5" x2="513.1" y2="561.9" stroke="#454545" stroke-width="1.4"/>
<text x="361.75" y="595.3" text-anchor="middle" font-size="12.5" fill="#1c1c1c">Load (%)</text>
<text transform="translate(182.4 437.75) rotate(-90) scale(1 1.0)" x="0" y="0" text-anchor="middle" font-size="12.5" fill="#1c1c1c">CO (%)</text>
<rect x="257.9" y="316" width="102.8" height="81" fill="#fff" stroke="#707070" stroke-width="0.9"/>
<rect x="259.1" y="319" width="19.8" height="9.3" fill="#000000" stroke="#000" stroke-width="0.7"/>
<text transform="translate(282.1 326.95) scale(0.92 1.0)" font-size="10" fill="#1c1c1c">Diesel @ 250 IP</text>
<rect x="259.1" y="330.25" width="19.8" height="9.3" fill="#ff0000" stroke="#000" stroke-width="0.7"/>
<text transform="translate(282.1 338.2) scale(0.92 1.0)" font-size="10" fill="#1c1c1c">PME-5G @ 250 IP</text>
<rect x="259.1" y="341.5" width="19.8" height="9.3" fill="#0000ff" stroke="#000" stroke-width="0.7"/>
<text transform="translate(282.1 349.45) scale(0.92 1.0)" font-size="10" fill="#1c1c1c">NME-5G @ 250 IP</text>
<rect x="259.1" y="352.75" width="19.8" height="9.3" fill="#ff00ff" stroke="#000" stroke-width="0.7"/>
<text transform="translate(282.1 360.7) scale(0.92 1.0)" font-size="10" fill="#1c1c1c">MME-5G @ 250 IP</text>
<rect x="259.1" y="364" width="19.8" height="9.3" fill="#008000" stroke="#000" stroke-width="0.7"/>
<text transform="translate(282.1 371.95) scale(0.92 1.0)" font-size="10" fill="#1c1c1c">JME-5G @ 250 IP</text>
<rect x="259.1" y="375.25" width="19.8" height="9.3" fill="#000080" stroke="#000" stroke-width="0.7"/>
<text transform="translate(282.1 383.2) scale(0.92 1.0)" font-size="10" fill="#1c1c1c">UME-5G @ 250 IP</text>
<rect x="259.1" y="386.5" width="19.8" height="9.3" fill="#8000ff" stroke="#000" stroke-width="0.7"/>
<text transform="translate(282.1 394.45) scale(0.92 1.0)" font-size="10" fill="#1c1c1c">DME-5G @ 250 IP</text>
<line x1="208.9" y1="316" x2="513.1" y2="316" stroke="#454545" stroke-width="1.5"/>
<text x="499.3" y="333.4" text-anchor="middle" font-family="Liberation Serif, serif" font-weight="bold" font-size="16" fill="#111">(c)</text>
</svg>
</body></html>
